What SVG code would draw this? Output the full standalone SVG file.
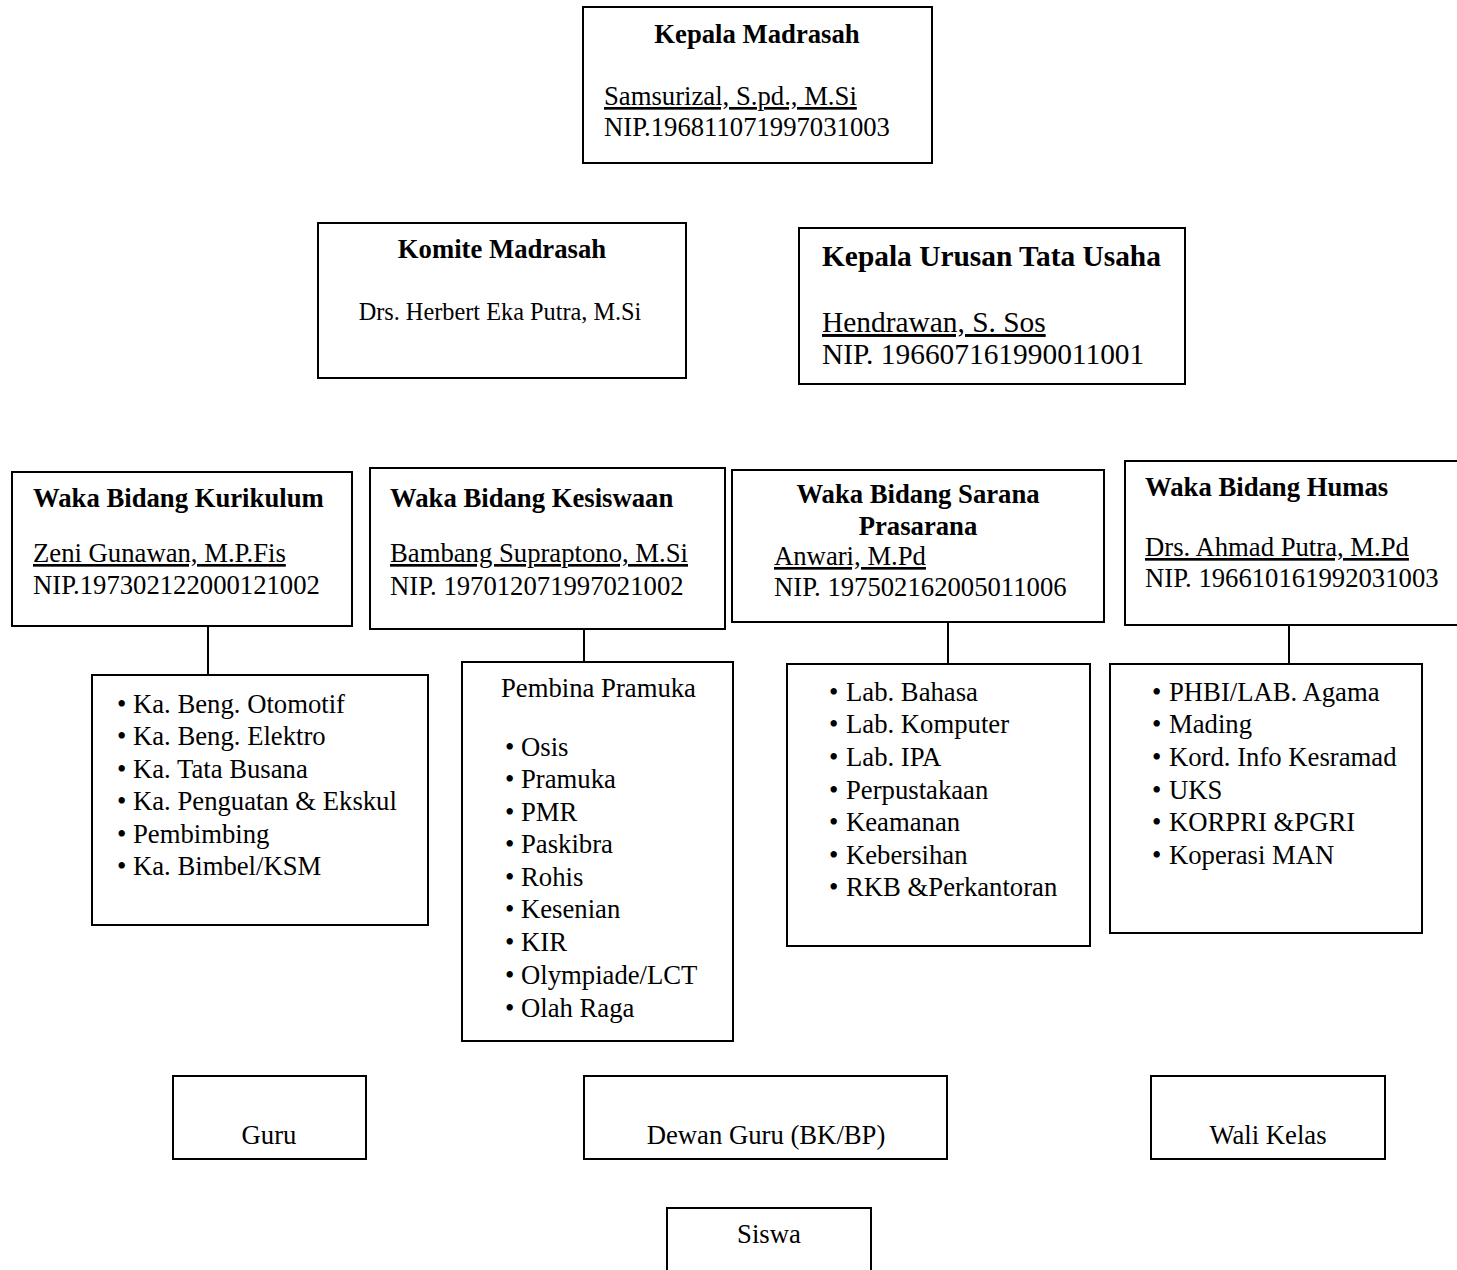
<svg xmlns="http://www.w3.org/2000/svg" width="1457" height="1270" viewBox="0 0 1457 1270">
<style>
rect.box{fill:#fff;stroke:#000;stroke-width:2}
line.c{stroke:#000;stroke-width:2}
text{font-family:"Liberation Serif","Times New Roman",serif;font-size:26.7px;fill:#000}
.b{font-weight:bold}
.m{text-anchor:middle}
.u{text-decoration:underline}
.tu{font-size:29.4px}
</style>
<rect width="1457" height="1270" fill="#fff"/>
<g id="connectors">
<line class="c" x1="208" y1="626" x2="208" y2="675"/>
<line class="c" x1="584" y1="629" x2="584" y2="662"/>
<line class="c" x1="948" y1="622" x2="948" y2="664"/>
<line class="c" x1="1289" y1="625" x2="1289" y2="664"/>
</g>
<g id="kepala-madrasah">
<rect class="box" x="583" y="7" width="349" height="156"/>
<text class="b m" x="757" y="43">Kepala Madrasah</text>
<text class="u" x="604" y="105">Samsurizal, S.pd., M.Si</text>
<text x="604" y="136">NIP.196811071997031003</text>
</g>
<g id="komite">
<rect class="box" x="318" y="223" width="368" height="155"/>
<text class="b m" x="502" y="258">Komite Madrasah</text>
<text class="m" x="500" y="320" style="font-size:24.3px">Drs. Herbert Eka Putra, M.Si</text>
</g>
<g id="tata-usaha">
<rect class="box" x="799" y="228" width="386" height="156"/>
<text class="b tu" x="822" y="266">Kepala Urusan Tata Usaha</text>
<text class="u tu" x="822" y="332">Hendrawan, S. Sos</text>
<text class="tu" x="822" y="364">NIP. 196607161990011001</text>
</g>
<g id="kurikulum">
<rect class="box" x="12" y="472" width="340" height="154"/>
<text class="b" x="33" y="507">Waka Bidang Kurikulum</text>
<text class="u" x="33" y="562">Zeni Gunawan, M.P.Fis</text>
<text x="33" y="594">NIP.197302122000121002</text>
</g>
<g id="kesiswaan">
<rect class="box" x="370" y="468" width="355" height="161"/>
<text class="b" x="390" y="507">Waka Bidang Kesiswaan</text>
<text class="u" x="390" y="562">Bambang Supraptono, M.Si</text>
<text x="390" y="595">NIP. 197012071997021002</text>
</g>
<g id="sarana">
<rect class="box" x="732" y="470" width="372" height="152"/>
<text class="b m" x="918" y="503">Waka Bidang Sarana</text>
<text class="b m" x="918" y="535">Prasarana</text>
<text class="u" x="774" y="565">Anwari, M.Pd</text>
<text x="774" y="596">NIP. 197502162005011006</text>
</g>
<g id="humas">
<rect class="box" x="1125" y="461" width="345" height="164"/>
<text class="b" x="1145" y="496">Waka Bidang Humas</text>
<text class="u" x="1145" y="556">Drs. Ahmad Putra, M.Pd</text>
<text x="1145" y="587">NIP. 196610161992031003</text>
</g>
<g id="kurikulum-list">
<rect class="box" x="92" y="675" width="336" height="250"/>
<text x="117" y="713"><tspan>•</tspan><tspan x="133">Ka. Beng. Otomotif</tspan></text>
<text x="117" y="745"><tspan>•</tspan><tspan x="133">Ka. Beng. Elektro</tspan></text>
<text x="117" y="778"><tspan>•</tspan><tspan x="133">Ka. Tata Busana</tspan></text>
<text x="117" y="810"><tspan>•</tspan><tspan x="133">Ka. Penguatan &amp; Ekskul</tspan></text>
<text x="117" y="843"><tspan>•</tspan><tspan x="133">Pembimbing</tspan></text>
<text x="117" y="875"><tspan>•</tspan><tspan x="133">Ka. Bimbel/KSM</tspan></text>
</g>
<g id="kesiswaan-list">
<rect class="box" x="462" y="662" width="271" height="379"/>
<text x="501" y="697">Pembina Pramuka</text>
<text x="505" y="756"><tspan>•</tspan><tspan x="521">Osis</tspan></text>
<text x="505" y="788"><tspan>•</tspan><tspan x="521">Pramuka</tspan></text>
<text x="505" y="821"><tspan>•</tspan><tspan x="521">PMR</tspan></text>
<text x="505" y="853"><tspan>•</tspan><tspan x="521">Paskibra</tspan></text>
<text x="505" y="886"><tspan>•</tspan><tspan x="521">Rohis</tspan></text>
<text x="505" y="918"><tspan>•</tspan><tspan x="521">Kesenian</tspan></text>
<text x="505" y="951"><tspan>•</tspan><tspan x="521">KIR</tspan></text>
<text x="505" y="984"><tspan>•</tspan><tspan x="521">Olympiade/LCT</tspan></text>
<text x="505" y="1017"><tspan>•</tspan><tspan x="521">Olah Raga</tspan></text>
</g>
<g id="sarana-list">
<rect class="box" x="787" y="664" width="303" height="282"/>
<text x="829" y="701"><tspan>•</tspan><tspan x="846">Lab. Bahasa</tspan></text>
<text x="829" y="733"><tspan>•</tspan><tspan x="846">Lab. Komputer</tspan></text>
<text x="829" y="766"><tspan>•</tspan><tspan x="846">Lab. IPA</tspan></text>
<text x="829" y="799"><tspan>•</tspan><tspan x="846">Perpustakaan</tspan></text>
<text x="829" y="831"><tspan>•</tspan><tspan x="846">Keamanan</tspan></text>
<text x="829" y="864"><tspan>•</tspan><tspan x="846">Kebersihan</tspan></text>
<text x="829" y="896"><tspan>•</tspan><tspan x="846">RKB &amp;Perkantoran</tspan></text>
</g>
<g id="humas-list">
<rect class="box" x="1110" y="664" width="312" height="269"/>
<text x="1152" y="701"><tspan>•</tspan><tspan x="1169">PHBI/LAB. Agama</tspan></text>
<text x="1152" y="733"><tspan>•</tspan><tspan x="1169">Mading</tspan></text>
<text x="1152" y="766"><tspan>•</tspan><tspan x="1169">Kord. Info Kesramad</tspan></text>
<text x="1152" y="799"><tspan>•</tspan><tspan x="1169">UKS</tspan></text>
<text x="1152" y="831"><tspan>•</tspan><tspan x="1169">KORPRI &amp;PGRI</tspan></text>
<text x="1152" y="864"><tspan>•</tspan><tspan x="1169">Koperasi MAN</tspan></text>
</g>
<g id="guru">
<rect class="box" x="173" y="1076" width="193" height="83"/>
<text class="m" x="269" y="1144">Guru</text>
</g>
<g id="dewan-guru">
<rect class="box" x="584" y="1076" width="363" height="83"/>
<text class="m" x="766" y="1144">Dewan Guru (BK/BP)</text>
</g>
<g id="wali-kelas">
<rect class="box" x="1151" y="1076" width="234" height="83"/>
<text class="m" x="1268" y="1144">Wali Kelas</text>
</g>
<g id="siswa">
<rect class="box" x="667" y="1208" width="204" height="70"/>
<text class="m" x="769" y="1243">Siswa</text>
</g>
</svg>
